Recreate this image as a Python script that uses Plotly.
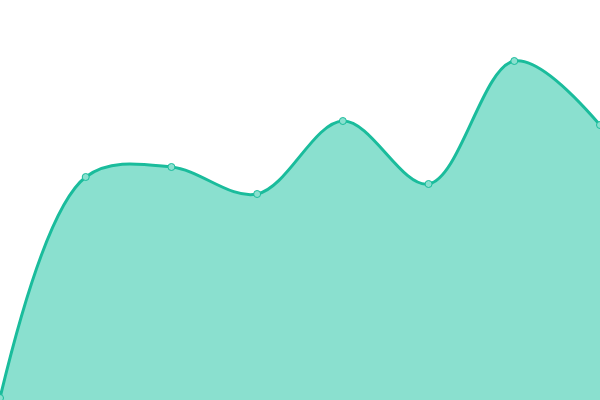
import plotly.graph_objects as go

# data (height above the bottom edge)
x_vals = [0, 1, 2, 3, 4, 5, 6, 7]
y_vals = [2, 223, 233, 206, 279, 216, 339, 275]

line_color = "#1abc9c"
fill_color = "#8ae0cf"

fig = go.Figure()
fig.add_trace(go.Scatter(
    x=x_vals,
    y=y_vals,
    mode="lines+markers",
    fill="tozeroy",
    fillcolor=fill_color,
    line=dict(color=line_color, width=3, shape="spline", smoothing=1),
    marker=dict(size=7, color=fill_color, line=dict(color=line_color, width=1)),
    hoverinfo="skip",
))

fig.update_layout(
    width=600,
    height=400,
    margin=dict(l=0, r=0, t=0, b=0),
    paper_bgcolor="white",
    plot_bgcolor="white",
    showlegend=False,
    xaxis=dict(range=[0, 7], visible=False, fixedrange=True),
    yaxis=dict(range=[0, 400], visible=False, fixedrange=True),
)

# drop the default page margin so the chart sits at the window corner
fig.write_html(
    "out.html",
    config={"displayModeBar": False},
    post_script="document.body.style.margin='0';document.body.style.overflow='hidden';",
)
